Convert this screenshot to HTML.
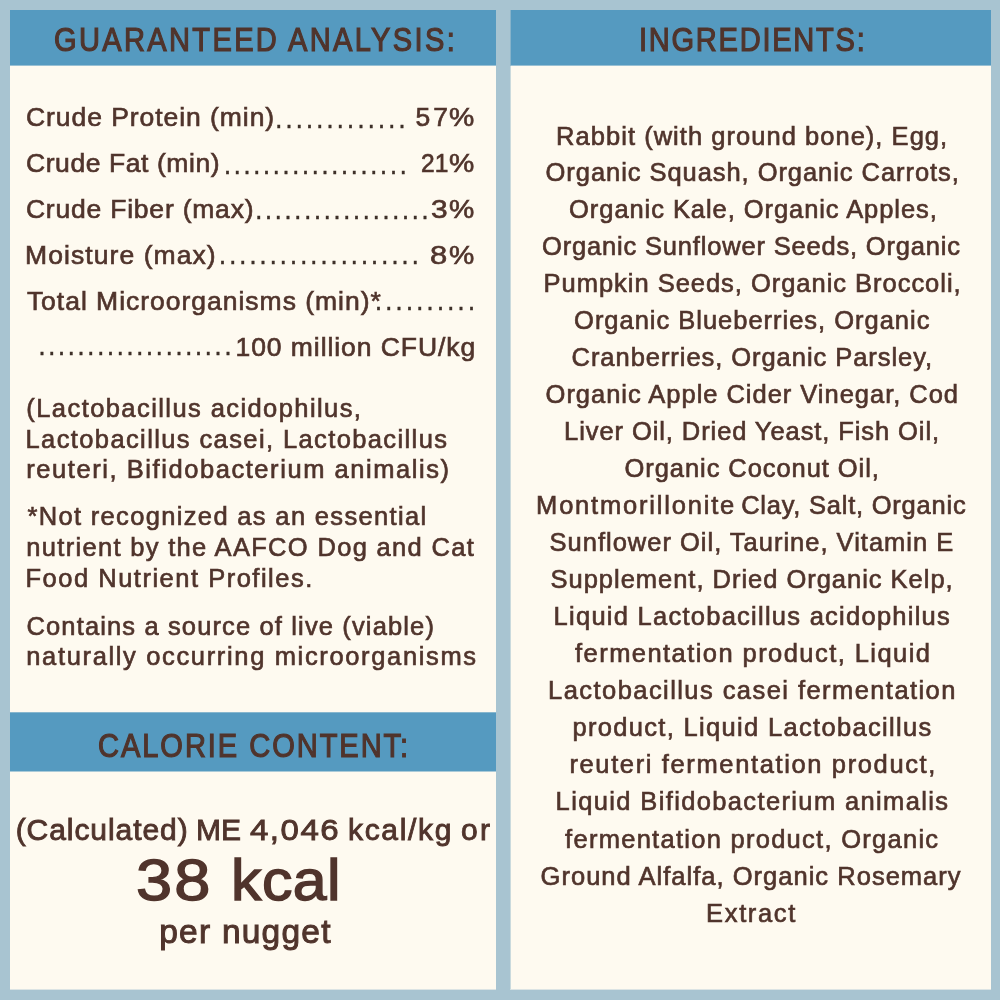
<!DOCTYPE html>
<html lang="en"><head><meta charset="utf-8"><title>Guaranteed Analysis and Ingredients</title><style>
html,body{margin:0;padding:0}
body{width:1000px;height:1000px;background:#a8c4d1;position:relative;overflow:hidden;font-family:"Liberation Sans",sans-serif;color:#50342c}
.panel{position:absolute;background:#fefaf0}
.hdr{position:absolute;background:#559ac0}
h2,p,section,main,.rows{margin:0;padding:0;font-size:0;font-weight:400}
.t{position:absolute;display:block;white-space:pre;line-height:1;margin:0;font-weight:400;transform-origin:0 0}
.c{display:inline-block;position:relative;vertical-align:top;line-height:1;font-weight:400;transform-origin:0 0}
</style></head><body>
<div class="panel" style="left:10px;top:10px;width:486px;height:979px;border-bottom:1px solid #dce4e4"></div>
<div class="panel" style="left:510px;top:10px;width:480px;height:979px;border-left:1px solid #cadadd;border-bottom:1px solid #dce4e4"></div>
<div class="hdr" style="left:10px;top:10px;width:486px;height:55px;border-bottom:1px solid #99c0d3"></div>
<div class="hdr" style="left:510px;top:10px;width:480px;height:55px;border-left:1px solid #87b3ca;border-bottom:1px solid #99c0d3"></div>
<div class="hdr" style="left:10px;top:712px;width:486px;height:58px;border-top:1px solid #88b7ce;border-bottom:1px solid #aacad8"></div>
<main>
<section class="analysis">
<h2><span class="t" style="left:53.50px;top:22.96px;font-size:33px;letter-spacing:2.667px;-webkit-text-stroke:1.2px #50342c;transform:scaleX(0.8800)">GUARANTEED ANALYSIS:</span></h2>
<div class="rows">
<p class="t g" style="left:25.95px;top:103.56px;font-size:26.5px"><span class="c" style="font-size:26.5px;letter-spacing:0.945px;-webkit-text-stroke:0.65px #50342c">Crude Protein (min) </span><span class="c" style="font-size:27px;letter-spacing:2.767px;-webkit-text-stroke:0.3px #3e3029;color:#3e3029;margin-left:-8.45px;top:1.98px">.............</span><span class="c" style="font-size:26.5px;letter-spacing:2.966px;-webkit-text-stroke:0.65px #50342c;margin-left:6.96px">57</span><span class="c" style="font-size:26.5px;-webkit-text-stroke:0.65px #50342c;margin-left:-1.56px;transform:scaleX(1.0712)">%</span></p>
<p class="t g" style="left:25.95px;top:149.56px;font-size:26.5px"><span class="c" style="font-size:26.5px;letter-spacing:0.580px;-webkit-text-stroke:0.65px #50342c">Crude Fat (min) </span><span class="c" style="font-size:27px;letter-spacing:2.261px;-webkit-text-stroke:0.3px #3e3029;color:#3e3029;margin-left:-4.46px;top:1.98px">...................</span><span class="c" style="font-size:26.5px;-webkit-text-stroke:0.65px #50342c;margin-left:12.32px;transform:scaleX(0.9264)">21</span><span class="c" style="font-size:26.5px;-webkit-text-stroke:0.65px #50342c;margin-left:-1.68px;transform:scaleX(1.0712)">%</span></p>
<p class="t g" style="left:25.95px;top:195.56px;font-size:26.5px"><span class="c" style="font-size:26.5px;letter-spacing:0.786px;-webkit-text-stroke:0.65px #50342c">Crude Fiber (max) </span><span class="c" style="font-size:27px;letter-spacing:2.283px;-webkit-text-stroke:0.3px #3e3029;color:#3e3029;margin-left:-7.47px;top:1.08px">..................</span><span class="c" style="font-size:26.5px;-webkit-text-stroke:0.65px #50342c;margin-left:-0.31px;transform:scaleX(1.1268)">3</span><span class="c" style="font-size:26.5px;-webkit-text-stroke:0.65px #50342c;margin-left:3.75px;transform:scaleX(1.0712)">%</span></p>
<p class="t g" style="left:25.00px;top:241.56px;font-size:26.5px"><span class="c" style="font-size:26.5px;letter-spacing:1.077px;-webkit-text-stroke:0.65px #50342c">Moisture (max) </span><span class="c" style="font-size:27px;letter-spacing:2.637px;-webkit-text-stroke:0.3px #3e3029;color:#3e3029;margin-left:-6.44px;top:0.48px">....................</span><span class="c" style="font-size:26.5px;-webkit-text-stroke:0.65px #50342c;margin-left:8.43px;transform:scaleX(1.1672)">8</span><span class="c" style="font-size:26.5px;-webkit-text-stroke:0.65px #50342c;margin-left:4.56px;transform:scaleX(1.0712)">%</span></p>
<p class="t g" style="left:26.88px;top:287.56px;font-size:26.5px"><span class="c" style="font-size:26.5px;letter-spacing:0.982px;-webkit-text-stroke:0.65px #50342c">Total Microorganisms (min)* </span><span class="c" style="font-size:27px;letter-spacing:2.827px;-webkit-text-stroke:0.3px #3e3029;color:#3e3029;margin-left:-15.45px;top:0.68px">..........</span></p>
<p class="t g" style="left:38.18px;top:333.14px;font-size:27px"><span class="c" style="font-size:27px;letter-spacing:2.286px;-webkit-text-stroke:0.3px #3e3029;color:#3e3029">....................</span><span class="c" style="font-size:26.5px;letter-spacing:0.936px;-webkit-text-stroke:0.65px #50342c;margin-left:1.57px;top:0.42px">100 million CFU/kg</span></p>
</div>
<p><span class="t" style="left:26.36px;top:396.11px;font-size:25.5px;letter-spacing:1.420px;-webkit-text-stroke:0.65px #50342c">(Lactobacillus acidophilus, </span><span class="t" style="left:25.50px;top:426.61px;font-size:25.5px;letter-spacing:1.390px;-webkit-text-stroke:0.65px #50342c">Lactobacillus casei, Lactobacillus </span><span class="t" style="left:26.30px;top:457.11px;font-size:25.5px;letter-spacing:1.560px;-webkit-text-stroke:0.65px #50342c">reuteri, Bifidobacterium animalis)</span></p>
<p><span class="t" style="left:27.38px;top:504.11px;font-size:25.5px;letter-spacing:1.339px;-webkit-text-stroke:0.65px #50342c">*Not recognized as an essential </span><span class="t" style="left:26.28px;top:535.11px;font-size:25.5px;letter-spacing:1.315px;-webkit-text-stroke:0.65px #50342c">nutrient by the AAFCO Dog and Cat </span><span class="t" style="left:25.50px;top:566.11px;font-size:25.5px;letter-spacing:1.504px;-webkit-text-stroke:0.65px #50342c">Food Nutrient Profiles.</span></p>
<p><span class="t" style="left:26.47px;top:614.11px;font-size:25.5px;letter-spacing:1.137px;-webkit-text-stroke:0.65px #50342c">Contains a source of live (viable) </span><span class="t" style="left:26.28px;top:644.11px;font-size:25.5px;letter-spacing:1.650px;-webkit-text-stroke:0.65px #50342c">naturally occurring microorganisms</span></p>
</section>
<section class="calorie">
<h2><span class="t" style="left:98.00px;top:729.36px;font-size:33px;letter-spacing:2.226px;-webkit-text-stroke:1.2px #50342c;transform:scaleX(0.8800)">CALORIE CONTENT:</span></h2>
<p class="t g" style="left:15.66px;top:815.00px;font-size:30px"><span class="c" style="font-size:30px;letter-spacing:0.938px;-webkit-text-stroke:0.9px #50342c">(Calculated) </span><span class="c" style="font-size:30px;-webkit-text-stroke:0.9px #50342c;margin-left:-1.93px">ME </span><span class="c" style="font-size:30px;letter-spacing:1.383px;-webkit-text-stroke:0.9px #50342c;margin-left:1.04px;transform:scaleX(1.1000)">4,046 </span><span class="c" style="font-size:30px;letter-spacing:1.684px;-webkit-text-stroke:0.9px #50342c;margin-left:5.88px">kcal/kg </span><span class="c" style="font-size:30px;letter-spacing:2.318px;-webkit-text-stroke:0.9px #50342c;margin-left:-2.17px">or</span></p>
<p class="t g" style="left:136.00px;top:850.79px;font-size:58px"><strong class="c" style="font-size:58px;letter-spacing:1.786px;-webkit-text-stroke:1.4px #50342c;transform:scaleX(1.1200)">38 </strong><strong class="c" style="font-size:58px;letter-spacing:0.422px;-webkit-text-stroke:1.4px #50342c;margin-left:9.19px;transform:scaleX(1.0500)">kcal</strong></p>
<p><span class="t" style="left:159.20px;top:914.94px;font-size:33.5px;letter-spacing:1.241px;-webkit-text-stroke:1.0px #50342c">per nugget</span></p>
</section>
<section class="ingredients">
<h2><span class="t" style="left:639.28px;top:22.96px;font-size:33px;letter-spacing:1.983px;-webkit-text-stroke:1.2px #50342c;transform:scaleX(0.8800)">INGREDIENTS:</span></h2>
<p>
<span class="t" style="left:556.10px;top:123.51px;font-size:25.5px;letter-spacing:1.034px;-webkit-text-stroke:0.65px #50342c">Rabbit (with ground bone), Egg, </span>
<span class="t" style="left:545.58px;top:160.01px;font-size:25.5px;letter-spacing:0.940px;-webkit-text-stroke:0.65px #50342c">Organic Squash, Organic Carrots, </span>
<span class="t" style="left:569.08px;top:197.01px;font-size:25.5px;letter-spacing:0.933px;-webkit-text-stroke:0.65px #50342c">Organic Kale, Organic Apples, </span>
<span class="t" style="left:542.08px;top:234.01px;font-size:25.5px;letter-spacing:0.818px;-webkit-text-stroke:0.65px #50342c">Organic Sunflower Seeds, Organic </span>
<span class="t" style="left:543.60px;top:271.01px;font-size:25.5px;letter-spacing:0.971px;-webkit-text-stroke:0.65px #50342c">Pumpkin Seeds, Organic Broccoli, </span>
<span class="t" style="left:574.08px;top:308.01px;font-size:25.5px;letter-spacing:0.982px;-webkit-text-stroke:0.65px #50342c">Organic Blueberries, Organic </span>
<span class="t" style="left:571.57px;top:345.01px;font-size:25.5px;letter-spacing:0.948px;-webkit-text-stroke:0.65px #50342c">Cranberries, Organic Parsley, </span>
<span class="t" style="left:545.58px;top:382.01px;font-size:25.5px;letter-spacing:0.974px;-webkit-text-stroke:0.65px #50342c">Organic Apple Cider Vinegar, Cod </span>
<span class="t" style="left:564.10px;top:419.01px;font-size:25.5px;letter-spacing:0.913px;-webkit-text-stroke:0.65px #50342c">Liver Oil, Dried Yeast, Fish Oil, </span>
<span class="t" style="left:624.58px;top:456.01px;font-size:25.5px;letter-spacing:0.927px;-webkit-text-stroke:0.65px #50342c">Organic Coconut Oil, </span>
<span class="t g" style="left:536.10px;top:493.01px;font-size:25.5px"><span class="c" style="font-size:25.5px;letter-spacing:1.803px;-webkit-text-stroke:0.65px #50342c">Montmorillonite </span><span class="c" style="font-size:25.5px;letter-spacing:0.766px;-webkit-text-stroke:0.65px #50342c;margin-left:-3.77px">Clay, Salt, Organic </span></span>
<span class="t" style="left:549.57px;top:530.01px;font-size:25.5px;letter-spacing:0.995px;-webkit-text-stroke:0.65px #50342c">Sunflower Oil, Taurine, Vitamin E </span>
<span class="t" style="left:550.57px;top:567.01px;font-size:25.5px;letter-spacing:0.977px;-webkit-text-stroke:0.65px #50342c">Supplement, Dried Organic Kelp, </span>
<span class="t" style="left:553.60px;top:604.01px;font-size:25.5px;letter-spacing:1.257px;-webkit-text-stroke:0.65px #50342c">Liquid Lactobacillus acidophilus </span>
<span class="t" style="left:575.10px;top:641.01px;font-size:25.5px;letter-spacing:1.435px;-webkit-text-stroke:0.65px #50342c">fermentation product, Liquid </span>
<span class="t" style="left:548.10px;top:678.01px;font-size:25.5px;letter-spacing:1.434px;-webkit-text-stroke:0.65px #50342c">Lactobacillus casei fermentation </span>
<span class="t" style="left:572.44px;top:715.01px;font-size:25.5px;letter-spacing:1.319px;-webkit-text-stroke:0.65px #50342c">product, Liquid Lactobacillus </span>
<span class="t" style="left:569.40px;top:752.01px;font-size:25.5px;letter-spacing:1.631px;-webkit-text-stroke:0.65px #50342c">reuteri fermentation product, </span>
<span class="t" style="left:555.60px;top:789.01px;font-size:25.5px;letter-spacing:1.365px;-webkit-text-stroke:0.65px #50342c">Liquid Bifidobacterium animalis </span>
<span class="t" style="left:565.10px;top:826.51px;font-size:25.5px;letter-spacing:1.274px;-webkit-text-stroke:0.65px #50342c">fermentation product, Organic </span>
<span class="t" style="left:540.57px;top:863.51px;font-size:25.5px;letter-spacing:1.022px;-webkit-text-stroke:0.65px #50342c">Ground Alfalfa, Organic Rosemary </span>
<span class="t" style="left:706.10px;top:901.01px;font-size:25.5px;letter-spacing:1.644px;-webkit-text-stroke:0.65px #50342c">Extract</span>
</p>
</section>
</main>
</body></html>
